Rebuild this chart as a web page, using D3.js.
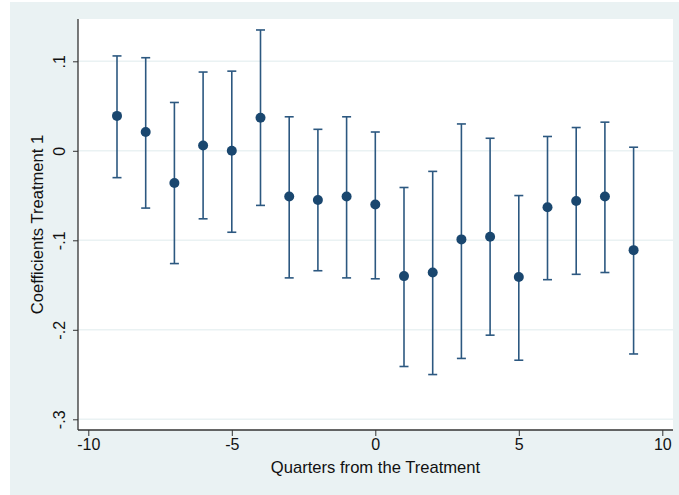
<!DOCTYPE html>
<html>
<head>
<meta charset="utf-8">
<script src="https://cdn.jsdelivr.net/npm/d3@7"></script>
<style>
  body { margin: 0; background: #fff; }
  text { font-family: "Liberation Sans", Arial, Helvetica, sans-serif; fill: #111; }
</style>
</head>
<body>
<div id="chart"></div>
<script>
// data
var quarters = [-9, -8, -7, -6, -5, -4, -3, -2, -1, 0, 1, 2, 3, 4, 5, 6, 7, 8, 9];
var coefs = [0.039, 0.021, -0.036, 0.006, 0.000, 0.037, -0.051, -0.055, -0.051, -0.060,
             -0.140, -0.136, -0.099, -0.096, -0.141, -0.063, -0.056, -0.051, -0.111];
var upper = [0.106, 0.104, 0.054, 0.088, 0.089, 0.135, 0.038, 0.024, 0.038, 0.021,
             -0.041, -0.023, 0.030, 0.014, -0.050, 0.016, 0.026, 0.032, 0.004];
var lower = [-0.030, -0.064, -0.126, -0.076, -0.091, -0.061, -0.142, -0.134, -0.142, -0.143,
             -0.241, -0.250, -0.232, -0.206, -0.234, -0.144, -0.138, -0.136, -0.227];
var xTicks = [-10, -5, 0, 5, 10];
var yTicks = [0.1, 0, -0.1, -0.2, -0.3];
var yTickLabels = [".1", "0", "-.1", "-.2", "-.3"];

var svgWidth = 679;
var svgHeight = 495;

// plot region (white box)
var plot = { left: 78, right: 673, top: 19, bottom: 430 };

var svg = d3.select("#chart")
  .append("svg")
  .attr("width", svgWidth)
  .attr("height", svgHeight);

// outer graph region
svg.append("rect")
  .attr("x", 10).attr("y", 2)
  .attr("width", svgWidth - 10).attr("height", svgHeight - 2)
  .attr("fill", "#eaf2f3");

svg.append("rect")
  .attr("x", plot.left).attr("y", plot.top)
  .attr("width", plot.right - plot.left).attr("height", plot.bottom - plot.top)
  .attr("fill", "#fff");

var x = d3.scaleLinear().domain([-10, 10]).range([88.3, 662.3]);
var y = d3.scaleLinear().domain([-0.3, 0.1]).range([419.3, 61.3]);

// gridlines
svg.append("g").selectAll("line")
  .data(yTicks)
  .enter()
  .append("line")
  .attr("x1", plot.left).attr("x2", plot.right)
  .attr("y1", d => y(d)).attr("y2", d => y(d))
  .attr("stroke", "#eaf2f3")
  .attr("stroke-width", 1.5);

// axes
var leftAxis = d3.axisLeft(y)
  .tickValues(yTicks)
  .tickSize(5)
  .tickPadding(14)
  .tickFormat((d, i) => yTickLabels[i]);

var bottomAxis = d3.axisBottom(x)
  .tickValues(xTicks)
  .tickSize(6)
  .tickPadding(3);

var yAxisG = svg.append("g")
  .attr("transform", `translate(${plot.left},0)`)
  .call(leftAxis);
yAxisG.select(".domain").attr("d", `M0,${plot.top}V${plot.bottom}`);
yAxisG.selectAll(".tick text")
  .attr("transform", "rotate(-90)")
  .attr("x", 0)
  .attr("y", -19)
  .attr("dy", "0.35em")
  .style("text-anchor", "middle")
  .style("font-size", "16px");

var xAxisG = svg.append("g")
  .attr("transform", `translate(0,${plot.bottom})`)
  .call(bottomAxis);
xAxisG.select(".domain").attr("d", `M${plot.left},0H${plot.right}`);
xAxisG.selectAll(".tick text")
  .style("font-size", "16px")
  .text(d => d);

svg.selectAll(".domain").attr("stroke", "#333").attr("stroke-width", 1.3);
svg.selectAll(".tick line").attr("stroke", "#333").attr("stroke-width", 1);

// error bars
var bars = svg.append("g")
  .attr("stroke", "#2c5880")
  .attr("stroke-width", 1.6);

bars.selectAll("line.bar")
  .data(quarters)
  .enter()
  .append("line")
  .attr("class", "bar")
  .attr("x1", d => x(d)).attr("x2", d => x(d))
  .attr("y1", (d, i) => y(upper[i]))
  .attr("y2", (d, i) => y(lower[i]));

bars.selectAll("line.capTop")
  .data(quarters)
  .enter()
  .append("line")
  .attr("class", "capTop")
  .attr("x1", d => x(d) - 4.5).attr("x2", d => x(d) + 4.5)
  .attr("y1", (d, i) => y(upper[i]))
  .attr("y2", (d, i) => y(upper[i]));

bars.selectAll("line.capBot")
  .data(quarters)
  .enter()
  .append("line")
  .attr("class", "capBot")
  .attr("x1", d => x(d) - 4.5).attr("x2", d => x(d) + 4.5)
  .attr("y1", (d, i) => y(lower[i]))
  .attr("y2", (d, i) => y(lower[i]));

// point estimates
svg.append("g").selectAll("circle")
  .data(quarters)
  .enter()
  .append("circle")
  .attr("cx", d => x(d))
  .attr("cy", (d, i) => y(coefs[i]))
  .attr("r", 5)
  .attr("fill", "#1a476f");

// axis titles
svg.append("text")
  .attr("x", (plot.left + plot.right) / 2)
  .attr("y", 472.5)
  .style("text-anchor", "middle")
  .style("font-size", "16.6px")
  .text("Quarters from the Treatment");

svg.append("text")
  .attr("transform", `translate(43,${(plot.top + plot.bottom) / 2}) rotate(-90)`)
  .style("text-anchor", "middle")
  .style("font-size", "16.6px")
  .text("Coefficients Treatment 1");
</script>
</body>
</html>
